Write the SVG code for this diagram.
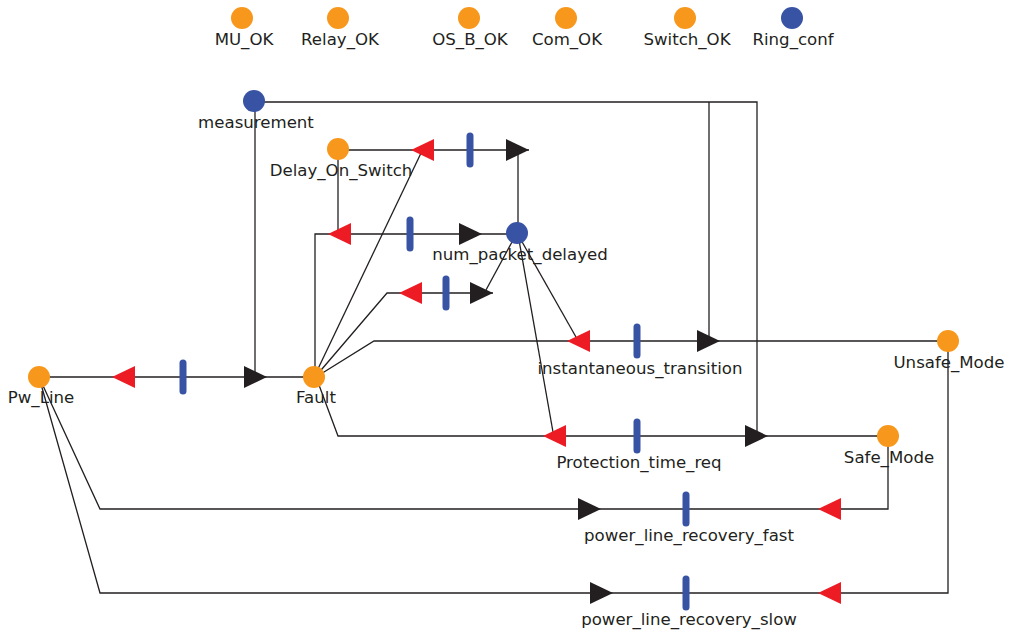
<svg xmlns="http://www.w3.org/2000/svg" width="1011" height="631" viewBox="0 0 1011 631">
<style>
.ln{fill:none;stroke:#231f20;stroke-width:1.3}
.po{fill:#f7981d}
.pb{fill:#3853a4}
.bar{stroke:#3853a4;stroke-width:7;stroke-linecap:round}
.rt{fill:#ed1c24}
.bt{fill:#231f20}
text{font-family:"DejaVu Sans",sans-serif;font-size:16.6px;fill:#231f20;text-anchor:middle}
</style>
<rect width="1011" height="631" fill="#ffffff"/>
<g id="connectors">
<path class="ln" d="M39,377H314"/>
<path class="ln" d="M255,101V377"/>
<path class="ln" d="M254,102H757V436"/>
<path class="ln" d="M709,102V341"/>
<path class="ln" d="M338,150H529"/>
<path class="ln" d="M518,150V233"/>
<path class="ln" d="M338,149V234"/>
<path class="ln" d="M315,377V234H517"/>
<path class="ln" d="M316,373L422,151"/>
<path class="ln" d="M316,376L387,293H493"/>
<path class="ln" d="M512,242L486,290"/>
<path class="ln" d="M316,377L374,341H948"/>
<path class="ln" d="M521,240L576,337"/>
<path class="ln" d="M316,377L338,436H888"/>
<path class="ln" d="M519,240L553,432"/>
<path class="ln" d="M39,377L100,509H888V436"/>
<path class="ln" d="M39,377L100,593H948V341"/>
</g>
<g id="T_Pw_Fault">
<polygon class="rt" points="112,377 135,366 135,388"/>
<line class="bar" x1="183" y1="363" x2="183" y2="391"/>
<polygon class="bt" points="267,377 244,366 244,388"/>
</g>
<g id="T_DelaySwitch">
<polygon class="rt" points="411,150 434,139 434,161"/>
<line class="bar" x1="470" y1="136" x2="470" y2="164"/>
<polygon class="bt" points="529,150 506,139 506,161"/>
</g>
<g id="T_Delay2">
<polygon class="rt" points="328,234 351,223 351,245"/>
<line class="bar" x1="410" y1="220" x2="410" y2="248"/>
<polygon class="bt" points="482,234 459,223 459,245"/>
</g>
<g id="T_Delay3">
<polygon class="rt" points="399,293 422,282 422,304"/>
<line class="bar" x1="446" y1="279" x2="446" y2="307"/>
<polygon class="bt" points="493,293 470,282 470,304"/>
</g>
<g id="instantaneous_transition">
<polygon class="rt" points="567,341 590,330 590,352"/>
<line class="bar" x1="637" y1="327" x2="637" y2="355"/>
<polygon class="bt" points="720,341 697,330 697,352"/>
<text x="640" y="374">instantaneous_transition</text>
</g>
<g id="Protection_time_req">
<polygon class="rt" points="543,436 566,425 566,447"/>
<line class="bar" x1="637" y1="422" x2="637" y2="450"/>
<polygon class="bt" points="768,436 745,425 745,447"/>
<text x="639" y="468">Protection_time_req</text>
</g>
<g id="power_line_recovery_fast">
<polygon class="bt" points="601,509 578,498 578,520"/>
<line class="bar" x1="686" y1="495" x2="686" y2="523"/>
<polygon class="rt" points="818,509 841,498 841,520"/>
<text x="689" y="541">power_line_recovery_fast</text>
</g>
<g id="power_line_recovery_slow">
<polygon class="bt" points="613,593 590,582 590,604"/>
<line class="bar" x1="686" y1="579" x2="686" y2="607"/>
<polygon class="rt" points="818,593 841,582 841,604"/>
<text x="689" y="625">power_line_recovery_slow</text>
</g>
<g id="MU_OK"><circle class="po" cx="242" cy="18" r="11"/><text x="244" y="45">MU_OK</text></g>
<g id="Relay_OK"><circle class="po" cx="338" cy="18" r="11"/><text x="340" y="45">Relay_OK</text></g>
<g id="OS_B_OK"><circle class="po" cx="469" cy="18" r="11"/><text x="470" y="45">OS_B_OK</text></g>
<g id="Com_OK"><circle class="po" cx="566" cy="18" r="11"/><text x="567" y="45">Com_OK</text></g>
<g id="Switch_OK"><circle class="po" cx="685" cy="18" r="11"/><text x="687" y="45">Switch_OK</text></g>
<g id="Ring_conf"><circle class="pb" cx="792" cy="18" r="11"/><text x="793" y="45">Ring_conf</text></g>
<g id="measurement"><circle class="pb" cx="254" cy="101" r="11"/><text x="256" y="128">measurement</text></g>
<g id="Delay_On_Switch"><circle class="po" cx="338" cy="149" r="11"/><text x="341" y="176">Delay_On_Switch</text></g>
<g id="num_packet_delayed"><circle class="pb" cx="517" cy="233" r="11"/><text x="520" y="260">num_packet_delayed</text></g>
<g id="Pw_Line"><circle class="po" cx="39" cy="377" r="11"/><text x="41" y="403">Pw_Line</text></g>
<g id="Fault"><circle class="po" cx="314" cy="377" r="11"/><text x="316" y="403">Fault</text></g>
<g id="Unsafe_Mode"><circle class="po" cx="948" cy="341" r="11"/><text x="949" y="368">Unsafe_Mode</text></g>
<g id="Safe_Mode"><circle class="po" cx="888" cy="436" r="11"/><text x="889" y="463">Safe_Mode</text></g>
</svg>
